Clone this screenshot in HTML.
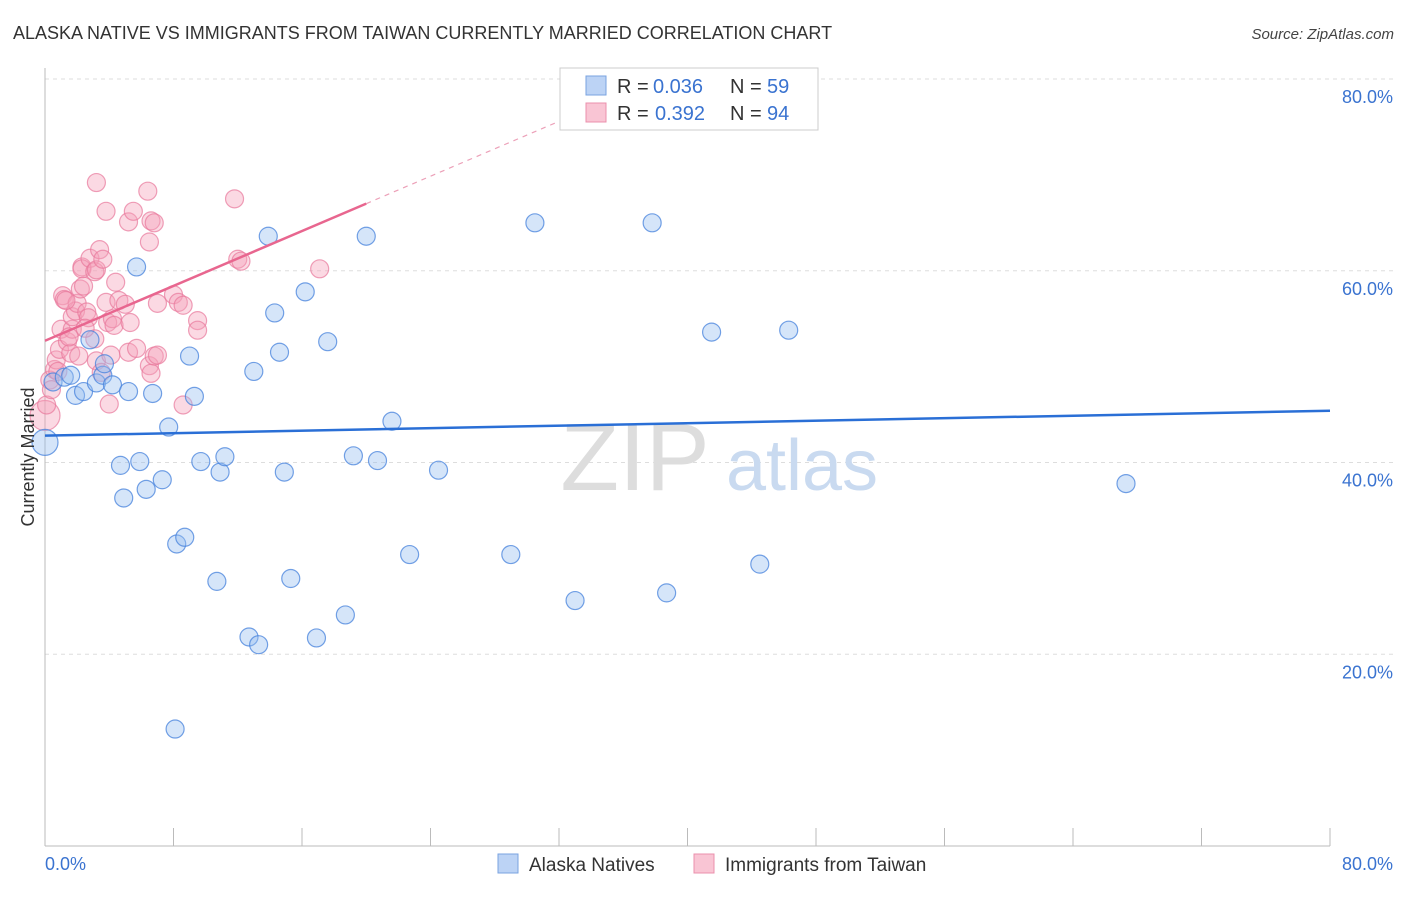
<!DOCTYPE html>
<html><head><meta charset="utf-8"><style>
body{margin:0;background:#fff;font-family:"Liberation Sans",sans-serif;}
svg text{font-family:"Liberation Sans",sans-serif;}
</style></head><body>
<svg width="1406" height="892" viewBox="0 0 1406 892">
<text x="13" y="39" font-size="18" fill="#333">ALASKA NATIVE VS IMMIGRANTS FROM TAIWAN CURRENTLY MARRIED CORRELATION CHART</text>
<text x="1394" y="39" font-size="15" fill="#444" font-style="italic" text-anchor="end">Source: ZipAtlas.com</text>
<g id="grid"></g>
<g id="watermark">
<text x="635" y="490" font-size="96" fill="#ddd" font-family="Liberation Serif" text-anchor="middle">ZIP</text>
<text x="802" y="490" font-size="72" fill="#c9daf0" text-anchor="middle">atlas</text>
</g>
<line x1="45" y1="68" x2="45" y2="846" stroke="#bbb"/>
<line x1="45" y1="846" x2="1330" y2="846" stroke="#bbb"/>
<g id="ticks"></g>
<g id="pts"></g>
<g id="lines"></g>
<text transform="translate(34,457) rotate(-90)" font-size="18" fill="#333" text-anchor="middle">Currently Married</text>
<text x="45" y="870" font-size="18" fill="#3a73d0">0.0%</text>
<text x="1393" y="870" font-size="18" fill="#3a73d0" text-anchor="end">80.0%</text>
<g>
<rect x="560" y="68" width="258" height="62" fill="#fff" stroke="#ccc"/>
<rect x="586" y="76" width="20" height="19" fill="#bcd3f5" stroke="#7aa3e0"/>
<rect x="586" y="103" width="20" height="19" fill="#f9c5d4" stroke="#eb90ac"/>
<text x="617" y="93" font-size="20" fill="#333">R =</text>
<text x="653" y="93" font-size="20" fill="#3a73d0">0.036</text>
<text x="730" y="93" font-size="20" fill="#333">N =</text>
<text x="767" y="93" font-size="20" fill="#3a73d0">59</text>
<text x="617" y="120" font-size="20" fill="#333">R =</text>
<text x="655" y="120" font-size="20" fill="#3a73d0">0.392</text>
<text x="730" y="120" font-size="20" fill="#333">N =</text>
<text x="767" y="120" font-size="20" fill="#3a73d0">94</text>
</g>
<g>
<rect x="498" y="854" width="20" height="19" fill="#bcd3f5" stroke="#7aa3e0"/>
<text x="529" y="871" font-size="19" fill="#333">Alaska Natives</text>
<rect x="694" y="854" width="20" height="19" fill="#f9c5d4" stroke="#eb90ac"/>
<text x="725" y="871" font-size="19" fill="#333">Immigrants from Taiwan</text>
</g>
</svg>
<script>
const yTicks=[20,40,60,80];
const xTicks=[0,10,20,30,40,50,60,70,80,90,100];
const blueX=[0,0.5,1.2,1.6,1.9,2.4,2.8,3.2,3.6,3.7,4.2,4.7,4.9,5.2,5.7,5.9,6.3,6.7,7.3,7.7,8.2,8.7,9.0,9.3,9.7,10.7,10.9,11.2,12.7,13.0,13.3,13.9,14.3,14.6,14.9,15.3,16.2,16.9,17.6,18.7,19.2,20.0,20.7,21.6,22.7,24.5,29.0,30.5,33.0,37.8,38.7,41.5,44.5,46.3,67.3,8.1];
const blueY=[42.1,48.4,48.9,49.1,47.0,47.4,52.8,48.3,49.1,50.3,48.1,39.7,36.3,47.4,60.4,40.1,37.2,47.2,38.2,43.7,31.5,32.2,51.1,46.9,40.1,27.6,39.0,40.6,21.8,49.5,21.0,63.6,55.6,51.5,39.0,27.9,57.8,21.7,52.6,24.1,40.7,63.6,40.2,44.3,30.4,39.2,30.4,65.0,25.6,65.0,26.4,53.6,29.4,53.8,37.8,12.2];
const pinkX=[0,0.1,0.3,0.4,0.6,0.7,0.9,1.0,1.1,1.2,1.4,1.6,1.7,1.7,1.9,2.0,2.1,2.2,2.3,2.3,2.4,2.6,2.7,2.8,3.2,3.1,3.2,3.2,3.4,3.5,3.6,3.8,3.8,3.9,4.0,4.1,4.2,4.4,4.6,5.2,5.0,5.2,5.5,5.7,6.4,6.5,6.6,6.5,6.6,6.8,6.8,7.0,8.0,8.3,8.6,8.6,9.5,9.5,11.8,12.0,12.2,17.1,4.3,3.1,1.5,0.8,2.5,5.3,7.0,1.3];
const pinkY=[44.9,46.0,48.6,47.6,49.7,50.7,51.8,53.9,57.4,57.0,52.6,51.4,53.9,55.2,55.8,56.6,51.1,58.1,60.4,60.2,58.4,55.7,55.1,61.3,69.2,59.9,60.1,50.6,62.2,49.4,61.2,66.2,56.7,54.6,46.1,51.2,55.0,58.8,56.9,65.1,56.5,51.5,66.2,51.9,68.3,63.0,65.2,50.1,49.3,65.0,51.1,51.2,57.5,56.7,56.4,46.0,54.8,53.8,67.5,61.2,61.0,60.2,54.3,52.9,53.1,49.5,54.0,54.6,56.6,56.9];
const X=v=>45+v*16.0625, Y=v=>846-v*9.5875;
const NS='http://www.w3.org/2000/svg';
function mk(t,a,p){const e=document.createElementNS(NS,t);for(const k in a)e.setAttribute(k,a[k]);p.appendChild(e);return e;}
const grid=document.getElementById('grid');
yTicks.forEach(t=>{
  const l=mk('line',{x1:45,x2:1394,y1:Y(t),y2:Y(t),stroke:'#ddd','stroke-dasharray':'4 4'},grid);
  
  
  const tx=mk('text',{x:1393,y:Y(t)+24,'font-size':18,fill:'#3a73d0','text-anchor':'end'},grid);
  tx.textContent=t.toFixed(1)+'%';
  
  
});
const tk=document.getElementById('ticks');
xTicks.forEach(t=>{const x=45+t*12.85;
  const l=mk('line',{x1:x,x2:x,y1:828,y2:846,stroke:'#bbb'},tk);
  
  });
const pts=document.getElementById('pts');
pinkX.forEach((v,i)=>{const r=(i==0)?15:9;
  const c=mk('circle',{cx:X(v),cy:Y(pinkY[i]),r:r,fill:'rgba(244,160,186,0.4)',stroke:'rgba(232,120,155,0.7)','stroke-width':1.2},pts);
  
  });
blueX.forEach((v,i)=>{const r=(i==0)?13:9;
  const c=mk('circle',{cx:X(v),cy:Y(blueY[i]),r:r,fill:'rgba(150,190,240,0.4)',stroke:'rgba(70,130,220,0.75)','stroke-width':1.2},pts);
  
  });
const ln=document.getElementById('lines');
const blueLine=[42.8,45.4], pinkLine=[52.7,67.0];
let b=mk('line',{x1:X(0),y1:Y(blueLine[0]),x2:X(80),y2:Y(blueLine[1]),stroke:'#2a6fd6','stroke-width':2.5},ln);


let slope=(pinkLine[1]-pinkLine[0])/20;
let pd=mk('line',{x1:X(20),y1:Y(pinkLine[1]),x2:X(32),y2:Y(pinkLine[0]+slope*32),stroke:'#eca0b8','stroke-width':1.2,'stroke-dasharray':'5 5'},ln);


let p=mk('line',{x1:X(0),y1:Y(pinkLine[0]),x2:X(20),y2:Y(pinkLine[1]),stroke:'#e8668f','stroke-width':2.5},ln);


</script>
</body></html>
